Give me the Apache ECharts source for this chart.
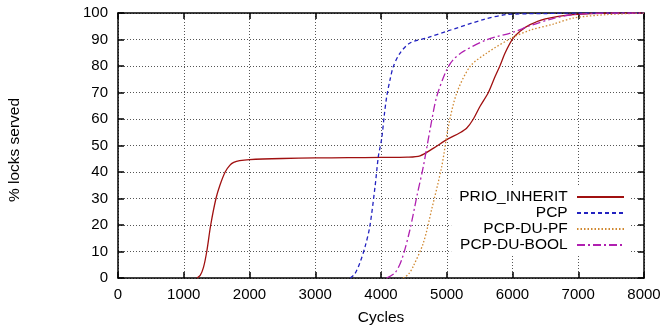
<!DOCTYPE html>
<html>
<head>
<meta charset="utf-8">
<script src="https://cdn.jsdelivr.net/npm/echarts@6/dist/echarts.min.js"></script>
<style>
	html, body { margin: 0; padding: 0; background: #fff; }
	#chart { width: 663px; height: 326px; }
</style>
</head>
<body>
<div id="chart"></div>
<script>
	// curves: [cycles, % locks served]
	const prioInherit = [[1200, 0], [1250, 1], [1300, 4], [1350, 10], [1410, 20], [1490, 30], [1550, 35], [1630, 40], [1700, 42.5], [1760, 43.6], [1850, 44.3], [2000, 44.7], [2500, 45.1], [3000, 45.3], [3500, 45.4], [4000, 45.5], [4400, 45.6], [4594, 46.1], [4800, 49], [5000, 52.2], [5200, 54.8], [5305, 56.6], [5405, 60], [5507, 64.8], [5633, 70], [5735, 76], [5811, 80.2], [5887, 84.9], [6005, 90.3], [6115, 93.1], [6267, 95.6], [6500, 97.8], [6920, 99.4], [7500, 100], [8000, 100]];
	const pcp = [[3530, 0], [3600, 1.5], [3680, 5.8], [3760, 12], [3830, 19.5], [3910, 34.6], [3960, 45.9], [4010, 52.5], [4050, 61.5], [4087, 68.5], [4137, 74.8], [4188, 79.8], [4290, 84.9], [4442, 88.7], [4721, 90.8], [5000, 93.1], [5557, 97.5], [5910, 99.4], [6500, 99.8], [7000, 100], [8000, 100]];
	const pcpDuPf = [[4335, 0], [4420, 1.5], [4490, 4.4], [4645, 13.3], [4770, 25.8], [4924, 42.1], [5025, 57.2], [5152, 69.8], [5355, 79.8], [5609, 84.9], [6005, 90.8], [6267, 93.5], [6620, 95.8], [6925, 98.1], [7435, 99.4], [8000, 100]];
	const pcpDuBool = [[4085, 0], [4215, 2], [4315, 6.9], [4440, 18.2], [4545, 30.8], [4644, 42.1], [4746, 56], [4848, 68.5], [5000, 78.6], [5100, 82.4], [5253, 85.5], [5609, 89.9], [6005, 92.7], [6267, 95.2], [6600, 97.8], [6920, 99.4], [7500, 100], [8000, 100]];
	const seriesNames = ['PRIO_INHERIT', 'PCP', 'PCP-DU-PF', 'PCP-DU-BOOL'];

	const font = 'Liberation Sans, Arial, sans-serif';
	const chart = echarts.init(document.getElementById('chart'));

	function mkSeries(name, data, color, type) {
		return {
			name: name,
			type: 'line',
			data: data,
			symbol: 'none',
			smooth: 0.3,
			lineStyle: { color: color, width: 1.3, type: type },
			itemStyle: { color: color }
		};
	}

	const boxAxis = {
		axisLine: { show: true, onZero: false, lineStyle: { color: '#000', width: 1.5 } },
		axisTick: { show: true, inside: true, length: 6, lineStyle: { color: '#000', width: 1.5 } },
		axisLabel: { show: false },
		splitLine: { show: false }
	};

	const option = {
		animation: false,
		textStyle: { fontFamily: font },
		grid: { left: 118, right: 19, top: 13, bottom: 48, outerBoundsMode: 'none' },
		legend: {
			orient: 'vertical',
			align: 'right',
			right: 32,
			top: 186,
			itemWidth: 47,
			itemHeight: 16,
			itemGap: 0,
			padding: [3, 6, 3, 8],
			backgroundColor: '#fff',
			data: seriesNames,
			formatter: function(name) {
				return name + ' ';
			},
			itemStyle: { color: 'rgba(0,0,0,0)', borderColor: 'rgba(0,0,0,0)', borderWidth: 0 },
			textStyle: { fontFamily: font, fontSize: 15.5, lineHeight: 16, color: '#000' }
		},
		xAxis: [{
			type: 'value',
			min: 0,
			max: 8000,
			interval: 1000,
			position: 'bottom',
			name: 'Cycles',
			nameLocation: 'middle',
			nameGap: 32,
			nameTextStyle: { fontFamily: font, fontSize: 15.5, color: '#000' },
			axisLine: { show: true, onZero: false, lineStyle: { color: '#000', width: 1.5 } },
			axisTick: { show: true, inside: true, length: 6, lineStyle: { color: '#000', width: 1.5 } },
			axisLabel: {
				margin: 9, fontSize: 15, color: '#000', fontFamily: font,
				formatter: function(v) {
					return String(v);
				}
			},
			splitLine: { show: true, lineStyle: { color: '#555', width: 1, type: [1, 2] } }
		}, Object.assign({ type: 'value', min: 0, max: 8000, interval: 1000, position: 'top' }, boxAxis)],
		yAxis: [{
			type: 'value',
			min: 0,
			max: 100,
			interval: 10,
			position: 'left',
			name: '% locks served',
			nameLocation: 'middle',
			nameGap: 95,
			nameTextStyle: { fontFamily: font, fontSize: 15.5, color: '#000', padding: [0, 9, 0, 0] },
			axisLine: { show: true, onZero: false, lineStyle: { color: '#000', width: 1.5 } },
			axisTick: { show: true, inside: true, length: 6, lineStyle: { color: '#000', width: 1.5 } },
			axisLabel: { margin: 10, fontSize: 15, color: '#000', fontFamily: font },
			splitLine: { show: true, lineStyle: { color: '#555', width: 1, type: [1, 2] } }
		}, Object.assign({ type: 'value', min: 0, max: 100, interval: 10, position: 'right' }, boxAxis)],
		series: [
			mkSeries(seriesNames[0], prioInherit, '#a01010', 'solid'),
			mkSeries(seriesNames[1], pcp, '#2222c0', [4, 3]),
			mkSeries(seriesNames[2], pcpDuPf, '#d08830', [1.5, 2]),
			mkSeries(seriesNames[3], pcpDuBool, '#b020b0', [8, 3, 2, 3])
		]
	};
	chart.setOption(option);
</script>
</body>
</html>
